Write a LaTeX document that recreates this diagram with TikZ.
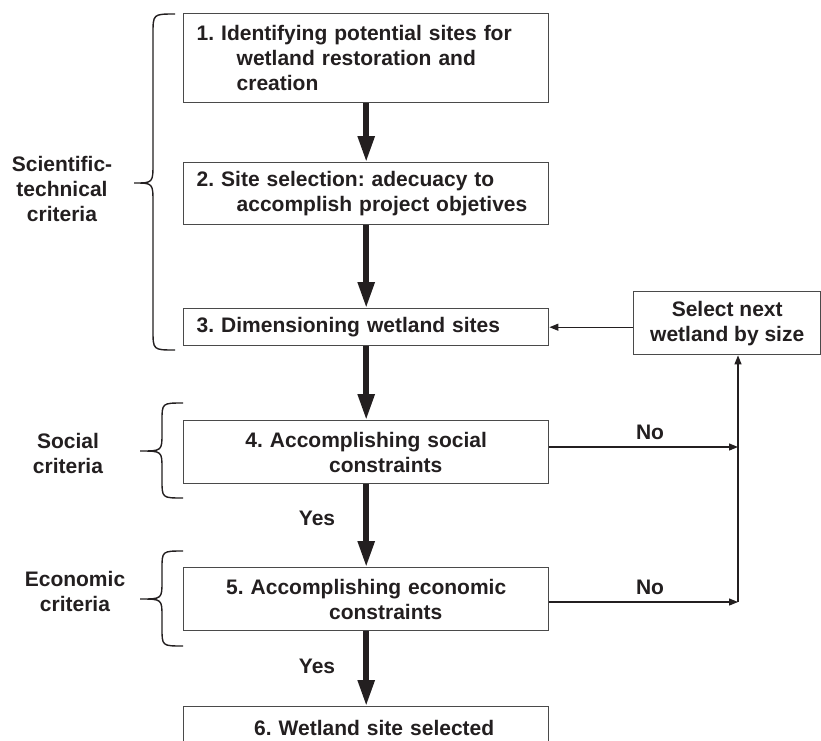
\documentclass[tikz,border=0pt]{standalone}
\usepackage{fontspec}
\setmainfont{Liberation Sans}
\usetikzlibrary{arrows.meta,calc}
\definecolor{ink}{HTML}{231F20}
\definecolor{frame}{HTML}{4A4A4A}
\frenchspacing
\begin{document}
\begin{tikzpicture}[x=1pt,y=-1pt,
  txt/.style={font=\fontsize{21}{25}\selectfont\bfseries\frenchspacing, text=ink},
  box/.style={txt, draw=frame, line width=1.4pt, fill=white, minimum width=365pt, inner xsep=13pt, inner ysep=0pt, anchor=north west},
  lbox/.style={box, text width=339pt, align=left},
  cbox/.style={box, text width=339pt, align=center},
  sbox/.style={txt, draw=frame, line width=1.4pt, fill=white, minimum width=187pt, minimum height=63pt, inner sep=0pt, align=center, anchor=north west},
  bigarrow/.style={draw=ink, line width=5.5pt, -{Triangle[length=26pt,width=16pt]}},
  thinarrow/.style={draw=ink, line width=1.2pt, -{Triangle[length=9pt,width=7pt]}},
  bracestyle/.style={draw=ink, line width=1.4pt},
  lab/.style={txt, align=center, inner sep=0pt}
]
\useasboundingbox (0,0) rectangle (821,740);
\clip (0,0) rectangle (821,740);
\fill[white] (0,0) rectangle (821,740);

% boxes
\node[lbox, minimum height=89pt] (b1) at (183,13) {1. Identifying potential sites for\\\hspace*{40pt}wetland restoration and\\\hspace*{40pt}creation};
\node[lbox, minimum height=62pt] (b2) at (183,162) {2. Site selection: adecuacy to\\\hspace*{40pt}accomplish project objetives};
\node[lbox, minimum height=37pt] (b3) at (183,308) {3. Dimensioning wetland sites};
\node[cbox, minimum height=63pt] (b4) at (183,420) {4. Accomplishing social\\\hspace*{39pt}constraints};
\node[cbox, minimum height=63pt] (b5) at (183,567) {5. Accomplishing economic\\\hspace*{39pt}constraints};
\node[cbox, minimum height=42pt] (b6) at (183,706) {\hspace*{16pt}6. Wetland site selected};
\node[sbox] (sel) at (633,291) {Select next\\wetland by size};

% thick arrows
\draw[bigarrow] (b1.south) -- (b2.north);
\draw[bigarrow] (b2.south) -- (b3.north);
\draw[bigarrow] (b3.south) -- (b4.north);
\draw[bigarrow] (b4.south) -- (b5.north);
\draw[bigarrow] (b5.south) -- (b6.north);

% feedback loop
\coordinate (j4) at (738,447);
\coordinate (j5) at (738,602);
\draw[thinarrow] (b4.east |- j4) -- (j4);
\draw[thinarrow] (b5.east |- j5) -- (j5);
\draw[thinarrow] (j5) -- (sel.south -| j5);
\draw[thinarrow] (sel.west |- b3.east) -- (b3.east);

% labels
\node[lab] (no4) at (650,432) {No};
\node[lab] (no5) at (650,587) {No};
\node[lab] (yes4) at (317,518) {Yes};
\node[lab] (yes5) at (317,666) {Yes};
\node[lab] (sci) at (62,189) {Scientific-\\technical\\criteria};
\node[lab] (soc) at (68,453) {Social\\criteria};
\node[lab] (eco) at (75,591) {Economic\\criteria};

% braces
\draw[bracestyle] (175,14) .. controls (153,14) .. (153,34) -- (153,163)
  .. controls (153,183) .. (134,183) .. controls (153,183) .. (153,203)
  -- (153,330) .. controls (153,350) .. (175,350);
\draw[bracestyle] (183,403) .. controls (162,403) .. (162,421) -- (162,433)
  .. controls (162,451) .. (140,451) .. controls (162,451) .. (162,469)
  -- (162,480) .. controls (162,498) .. (183,498);
\draw[bracestyle] (183,551) .. controls (162,551) .. (162,569) -- (162,581)
  .. controls (162,599) .. (140,599) .. controls (162,599) .. (162,617)
  -- (162,628) .. controls (162,646) .. (183,646);
\end{tikzpicture}
\end{document}
